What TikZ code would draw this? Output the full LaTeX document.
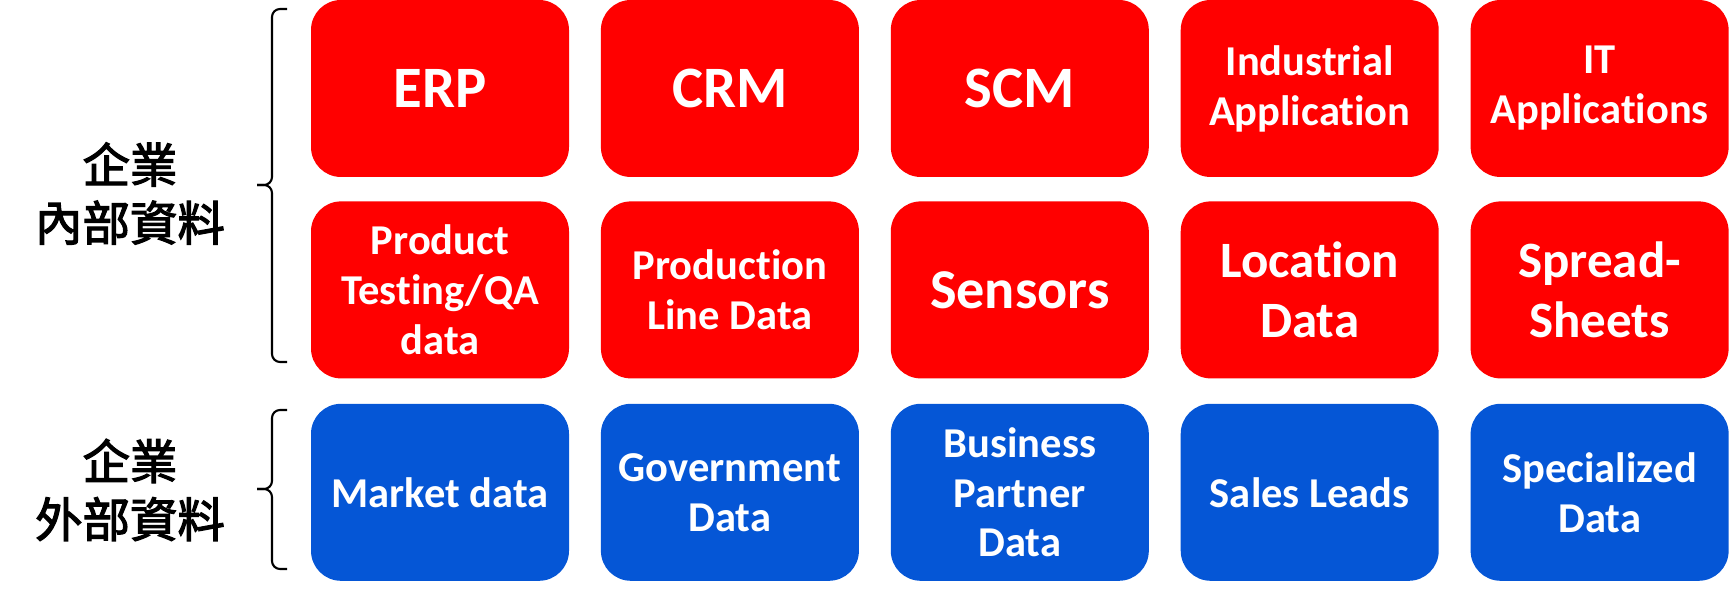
\documentclass[tikz,border=0pt]{standalone}
\usepackage{fontspec}
\setmainfont[Ligatures=NoCommon]{Carlito}
\newfontfamily\cjkfont[FakeBold=2.5]{Noto Sans CJK TC}
\usetikzlibrary{positioning}
\definecolor{BoxRed}{RGB}{255,0,0}
\definecolor{BoxBlue}{RGB}{5,86,214}
\tikzset{
  dbox/.style={rectangle,rounded corners=0.3cm,minimum width=2.58cm,minimum height=1.77cm,
               inner sep=0pt,align=center,text=white,
               font=\bfseries\fontsize{12.1}{14.2}\selectfont},
  inbox/.style={dbox,fill=BoxRed},
  exbox/.style={dbox,fill=BoxBlue},
  bigtxt/.style={font=\bfseries\fontsize{16.7}{20}\selectfont},
  midtxt/.style={font=\bfseries\fontsize{14.5}{17.2}\selectfont},
  brace/.style={draw,line width=0.6pt,rounded corners=0.8mm},
  grp/.style={font=\cjkfont\fontsize{13.5}{16.5}\selectfont,align=center,inner sep=0pt},
}
\begin{document}
\begin{tikzpicture}[node distance=0.23cm and 0.305cm]
    \useasboundingbox (0,0) rectangle (17.29,-5.90);

    % internal data, first row
    \node[inbox,bigtxt] (erp) at (4.40,-0.885) {ERP};
    \node[inbox,bigtxt,right=of erp] (crm) {CRM};
    \node[inbox,bigtxt,right=of crm] (scm) {SCM};
    \node[inbox,right=of scm] (indapp) {Industrial\\Application};
    \node[inbox,right=of indapp] (itapp) {IT\\Applications};

    % internal data, second row
    \node[inbox,below=of erp] (testing) {Product\\Testing/QA\\data};
    \node[inbox,below=of crm] (prodline) {Production\\Line Data};
    \node[inbox,midtxt,below=of scm,font=\bfseries\fontsize{16}{19}\selectfont] (sensors) {Sensors};
    \node[inbox,midtxt,below=of indapp] (location) {Location\\Data};
    \node[inbox,midtxt,below=of itapp] (sheets) {Spread-\\Sheets};

    % external data
    \node[exbox,below=0.24cm of testing] (market) {Market data};
    \node[exbox,below=0.24cm of prodline] (gov) {Government\\Data};
    \node[exbox,below=0.24cm of sensors] (partner) {Business\\Partner\\Data};
    \node[exbox,below=0.24cm of location] (leads) {Sales Leads};
    \node[exbox,below=0.24cm of sheets] (special) {Specialized\\Data};

    % group labels
    \node[grp] (inlabel) at (1.30,-1.935) {企業\\內部資料};
    \node[grp] (exlabel) at (1.30,-4.90) {企業\\外部資料};

    % braces
    \coordinate (intop) at (2.87,-0.09);
    \coordinate (inmid) at (2.72,-1.85);
    \coordinate (intip) at (2.57,-1.85);
    \coordinate (inbot) at (2.87,-3.62);
    \draw[brace] (intop) -| (inmid) -- (intip);
    \draw[brace] (intip) -- (inmid) |- (inbot);

    \coordinate (extop) at (2.87,-4.10);
    \coordinate (exmid) at (2.72,-4.89);
    \coordinate (extip) at (2.57,-4.89);
    \coordinate (exbot) at (2.87,-5.69);
    \draw[brace] (extop) -| (exmid) -- (extip);
    \draw[brace] (extip) -- (exmid) |- (exbot);
\end{tikzpicture}
\end{document}
